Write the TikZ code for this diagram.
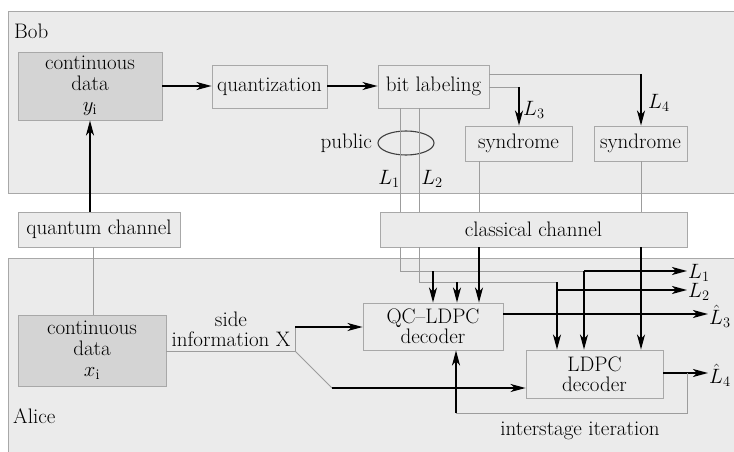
\documentclass[tikz,border=0pt]{standalone}
\usepackage{fontspec}
\usetikzlibrary{arrows.meta}
\definecolor{panelgray}{HTML}{EBEBEB}
\definecolor{edgegray}{HTML}{A8A8A8}
\definecolor{darkgray}{HTML}{D4D4D4}
\definecolor{linegray}{HTML}{9C9C9C}
\newcommand\figfont{\fontsize{21}{23}\selectfont}
\begin{document}
\begin{tikzpicture}[x=1pt,y=-1pt,
  panel/.style={draw=edgegray,fill=panelgray,line width=1pt},
  box/.style={draw=edgegray,fill=panelgray,line width=0.9pt,inner sep=0pt,align=center,font=\figfont},
  darkbox/.style={box,fill=darkgray},
  lbl/.style={inner sep=0pt,font=\figfont,align=center},
  gline/.style={draw=linegray,line width=0.9pt},
  barrow/.style={draw=black,line width=1.5pt,-{Stealth[length=15pt,width=8pt,inset=4pt]}},
  bline/.style={draw=black,line width=1.5pt}]
\clip (0,0) rectangle (734,452);
\fill[white] (0,0) rectangle (734,452);
% panels
\draw[panel] (8,12) rectangle (745,193);
\draw[panel] (8,258) rectangle (745,470);
\node[lbl,anchor=west] (bob) at (14,31) {Bob};
\node[lbl,anchor=west] (alice) at (13,416) {Alice};
% Bob boxes
\node[darkbox,minimum width=144,minimum height=68] (yd) at (90,86) {continuous\\[-2pt]data\\[-2pt]$y_{\mathrm{i}}$};
\node[box,minimum width=115,minimum height=43] (quant) at (269.5,86.5) {quantization};
\node[box,minimum width=111,minimum height=43] (bitlab) at (433.5,86.5) {bit labeling};
\node[box,minimum width=107,minimum height=35] (syn1) at (518.5,143.5) {syndrome};
\node[box,minimum width=93,minimum height=35] (syn2) at (640.5,143.5) {syndrome};
\draw[draw=black!75,line width=1.1pt] (406,143) ellipse [x radius=28,y radius=12];
\node[lbl,anchor=east] (pub) at (372,143) {public};
% channels
\node[box,minimum width=162,minimum height=35] (qch) at (99,229.5) {quantum channel};
\node[box,minimum width=307,minimum height=35] (cch) at (533.5,229.5) {classical channel};
% Alice boxes
\node[darkbox,minimum width=148,minimum height=71] (xd) at (92,350.5) {continuous\\[-2pt]data\\[-2pt]$x_{\mathrm{i}}$};
\node[box,minimum width=140,minimum height=47] (qc) at (433,326.5) {QC--LDPC\\[-3pt]decoder};
\node[box,minimum width=137,minimum height=48] (ldpc) at (594.5,374) {LDPC\\[-3pt]decoder};
\node[lbl] (side) at (231,329) {side\\[-3pt]information X};
\node[lbl] (inter) at (580,431) {interstage iteration};
% coordinates
\coordinate (b1) at (400,108);
\coordinate (b2) at (419,108);
\coordinate (c1t) at (400,212);
\coordinate (c2t) at (419,212);
\coordinate (c1b) at (400,247);
\coordinate (c2b) at (419,247);
\coordinate (h1) at (400,271);
\coordinate (h2) at (419,282);
\coordinate (t1) at (433,271);
\coordinate (t2) at (457,282);
\coordinate (j1) at (584,271);
\coordinate (j2) at (557,282);
\coordinate (k2) at (557,290);
\coordinate (o1) at (687,271);
\coordinate (o2) at (687,290);
\coordinate (o3) at (708,314);
\coordinate (o4) at (708,373);
\coordinate (bl1) at (489,74);
\coordinate (bl2) at (489,87);
\coordinate (s1a) at (519,87);
\coordinate (s2a) at (641,74);
% Bob connectors
\draw[barrow] (yd.east |- 0,86) -- (quant.west |- 0,86);
\draw[barrow] (quant.east |- 0,86) -- (bitlab.west |- 0,86);
\draw[barrow] (qch.north -| 90,0) -- (yd.south -| 90,0);
\draw[gline] (bl1) -- (s2a);
\draw[gline] (bl2) -- (s1a);
\draw[barrow] (s1a) -- (syn1.north -| s1a);
\draw[barrow] (s2a) -- (syn2.north -| s2a);
\node[lbl,anchor=west] (l3) at (523,110) {$L_3$};
\node[lbl,anchor=west] (l4) at (648,103) {$L_4$};
\draw[gline] (b1) -- (c1t);
\draw[gline] (b2) -- (c2t);
\node[lbl] (l1a) at (389,179) {$L_1$};
\node[lbl] (l2a) at (432,179) {$L_2$};
\draw[gline] (syn1.south -| 479,0) -- (cch.north -| 479,0);
\draw[gline] (syn2.south -| 641,0) -- (cch.north -| 641,0);
% quantum channel to Alice
\draw[gline] (qch.south -| 93,0) -- (xd.north -| 93,0);
% classical channel to decoders
\draw[gline] (c1b) -- (h1) -- (j1);
\draw[gline] (c2b) -- (h2) -- (j2);
\draw[barrow] (t1) -- (qc.north -| t1);
\draw[barrow] (t2) -- (qc.north -| t2);
\draw[barrow] (cch.south -| 479,0) -- (qc.north -| 479,0);
\draw[barrow] (j1) -- (ldpc.north -| j1);
\draw[barrow] (j2) -- (ldpc.north -| j2);
\draw[barrow] (cch.south -| 641,0) -- (ldpc.north -| 641,0);
\draw[barrow] (j1) -- (o1);
\draw[barrow] (k2) -- (o2);
\draw[barrow] (qc.east |- o3) -- (o3);
\draw[barrow] (ldpc.east |- o4) -- (o4);
\node[lbl,anchor=west] (lo1) at (688,273) {$L_1$};
\node[lbl,anchor=west] (lo2) at (688,292) {$L_2$};
\node[lbl,anchor=west] (lo3) at (709,316) {$\hat{L}_3$};
\node[lbl,anchor=west] (lo4) at (709,375) {$\hat{L}_4$};
% side information
\coordinate (sx) at (295,351);
\coordinate (sy) at (295,327);
\coordinate (sd) at (332,388);
\draw[gline] (xd.east |- sx) -- (sx) -- (sy);
\draw[gline] (sx) -- (sd);
\draw[barrow] (sy) -- (qc.west |- sy);
\draw[barrow] (sd) -- (ldpc.west |- sd);
% interstage iteration
\coordinate (i1) at (687,373);
\coordinate (i2) at (687,413);
\coordinate (i3) at (456,413);
\draw[gline] (i1) -- (i2) -- (i3);
\draw[barrow] (i3) -- (qc.south -| i3);
\end{tikzpicture}
\end{document}
